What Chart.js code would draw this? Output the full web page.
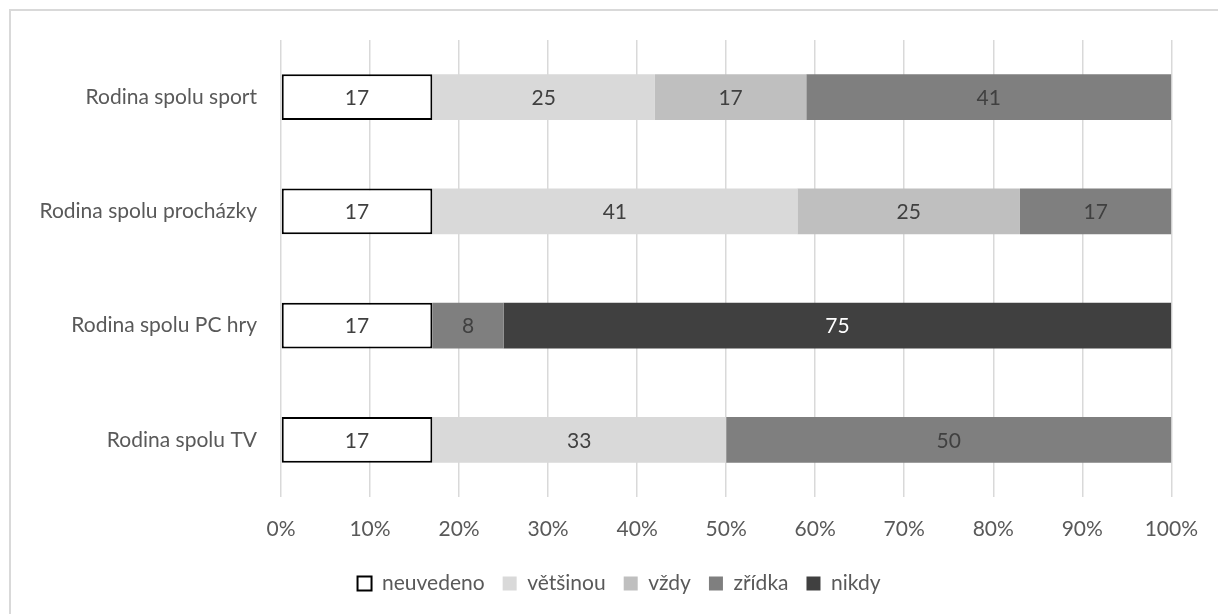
<!DOCTYPE html>
<html>
<head>
<meta charset="utf-8">
<script src="https://cdn.jsdelivr.net/npm/chart.js@4/dist/chart.umd.min.js"></script>
<style>
    html, body { margin: 0; padding: 0; background: #fff; }
    #wrap { position: relative; width: 1218px; height: 614px; overflow: hidden; }
    #frame { position: absolute; left: 9px; top: 9px; width: 1300px; height: 700px; border: 2px solid #d9d9d9; }
    #chart { position: absolute; left: 0; top: 0; }
</style>
</head>
<body>
<div id="wrap">
    <div id="frame"></div>
    <canvas id="chart" width="1218" height="614"></canvas>
</div>
<script>
// Data
const categories = ['Rodina spolu sport', 'Rodina spolu procházky', 'Rodina spolu PC hry', 'Rodina spolu TV'];
const neuvedeno = [17, 17, 17, 17];
const vetsinou = [25, 41, 0, 33];
const vzdy = [17, 25, 0, 0];
const zridka = [41, 17, 8, 50];
const nikdy = [0, 0, 75, 0];
const xTicks = [0, 10, 20, 30, 40, 50, 60, 70, 80, 90, 100];

const FONT = 'Lato, "Open Sans", sans-serif';
const SIZE = 21;
const TEXT = '#595959';

// Draw the value in the middle of every non-empty bar segment
const valueLabels = {
    id: 'valueLabels',
    beforeDraw(chart) {
        // let the long category labels run past the axis box without clipping
        chart.scales.y.left = 0;
    },
    afterDatasetsDraw(chart) {
        const ctx = chart.ctx;
        ctx.save();
        ctx.font = SIZE + 'px ' + FONT;
        ctx.textAlign = 'center';
        ctx.textBaseline = 'middle';
        chart.data.datasets.forEach((ds, i) => {
            const meta = chart.getDatasetMeta(i);
            meta.data.forEach((bar, j) => {
                const v = ds.data[j];
                if (!v) return;
                const p = bar.getProps(['x', 'base', 'y'], true);
                ctx.fillStyle = ds.labelColor;
                ctx.fillText(String(v), (p.x + p.base) / 2, p.y + 1);
            });
        });
        ctx.restore();
    }
};

const datasets = [
    { label: 'neuvedeno', data: neuvedeno, backgroundColor: '#ffffff', borderColor: '#000000', borderWidth: 2, labelColor: '#404040' },
    { label: 'většinou', data: vetsinou, backgroundColor: '#d9d9d9', borderWidth: 0, labelColor: '#404040' },
    { label: 'vždy', data: vzdy, backgroundColor: '#bfbfbf', borderWidth: 0, labelColor: '#404040' },
    { label: 'zřídka', data: zridka, backgroundColor: '#7f7f7f', borderWidth: 0, labelColor: '#404040' },
    { label: 'nikdy', data: nikdy, backgroundColor: '#404040', borderWidth: 0, labelColor: '#ffffff' }
].map(d => ({ ...d, borderSkipped: false, categoryPercentage: 1, barPercentage: 0.4 }));

new Chart(document.getElementById('chart').getContext('2d'), {
    type: 'bar',
    data: { labels: categories, datasets: datasets },
    options: {
        indexAxis: 'y',
        responsive: false,
        animation: false,
        layout: { padding: { left: 59, right: 39, top: 40, bottom: 10 } },
        plugins: {
            legend: {
                position: 'bottom',
                labels: {
                    color: TEXT,
                    font: { family: FONT, size: SIZE },
                    boxWidth: 14,
                    boxHeight: 14,
                    padding: 18
                }
            },
            tooltip: { enabled: false }
        },
        scales: {
            x: {
                stacked: true,
                min: 0,
                max: 100,
                afterBuildTicks: axis => { axis.ticks = xTicks.map(v => ({ value: v })); },
                afterFit: axis => { axis.height = 58; },
                ticks: {
                    color: TEXT,
                    font: { family: FONT, size: SIZE },
                    padding: 20,
                    maxRotation: 0,
                    callback: v => v + '%'
                },
                grid: { color: '#d9d9d9', lineWidth: 1.5, drawTicks: false },
                border: { display: false }
            },
            y: {
                stacked: true,
                afterFit: axis => { axis.width = 222; },
                ticks: {
                    color: TEXT,
                    font: { family: FONT, size: SIZE },
                    padding: 24
                },
                grid: { display: false, drawTicks: false },
                border: { display: false }
            }
        }
    },
    plugins: [valueLabels]
});
</script>
</body>
</html>
